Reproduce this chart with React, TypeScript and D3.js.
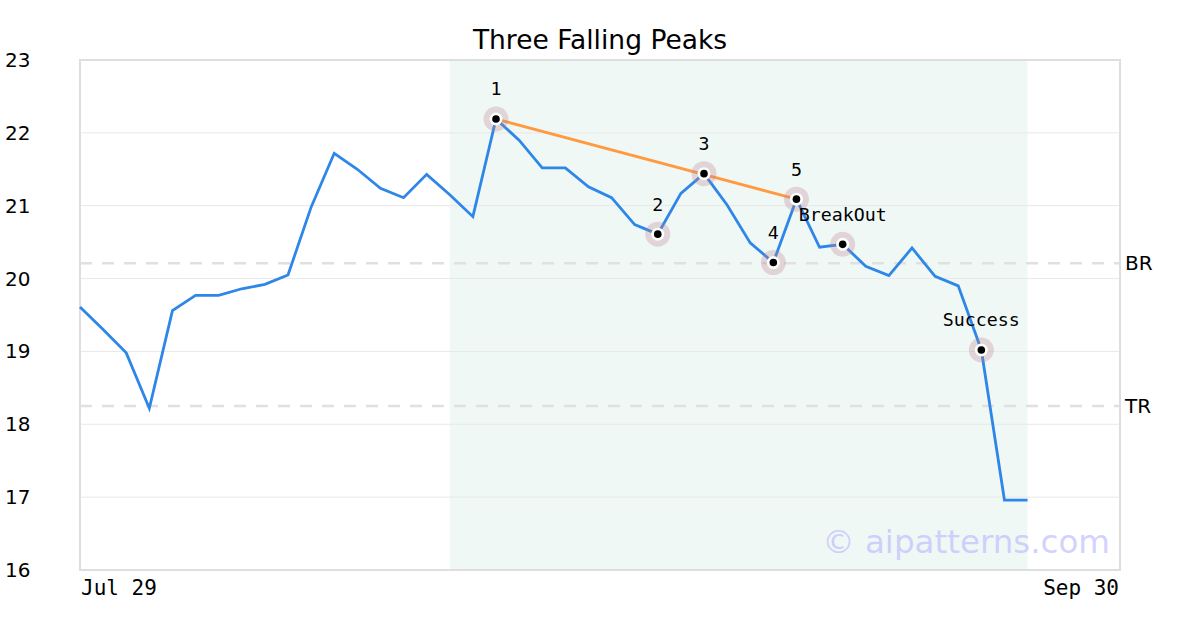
import React from "react";
import * as d3 from "d3";

const prices: number[] = [
  19.61, 19.3, 18.98, 18.22, 19.56, 19.77, 19.77, 19.86, 19.92, 20.05,
  20.98, 21.72, 21.5, 21.24, 21.11, 21.43, 21.15, 20.85, 22.19, 21.9,
  21.52, 21.52, 21.26, 21.11, 20.74, 20.61, 21.17, 21.44, 21.01, 20.49,
  20.22, 21.09, 20.43, 20.47, 20.17, 20.04, 20.42, 20.03, 19.9, 19.02,
  16.96, 16.96,
];
const totalSlots = 45;
const xTickLabels = ["Jul 29", "Sep 30"];
const yTicks = [16, 17, 18, 19, 20, 21, 22, 23];
const peakIdx = [18, 25, 27, 30, 31];
const peakLabels = ["1", "2", "3", "4", "5"];
const eventIdx = [33, 39];
const eventLabels = ["BreakOut", "Success"];
const trendIdx = [18, 31];
const levelValues = [20.21, 18.25];
const levelLabels = ["BR", "TR"];
const shadeRange = [16, 41];

export default function App() {
  const W = 1200, H = 630;
  const left = 80, right = 1120, top = 60, bottom = 570;
  const x = d3.scaleLinear().domain([0, totalSlots]).range([left, right]);
  const y = d3.scaleLinear().domain([16, 23]).range([bottom, top]);
  const line = d3.line<number>().x((_, i) => x(i)).y((d) => y(d));
  const markers = [
    ...peakIdx.map((i, k) => ({ i, label: peakLabels[k] })),
    ...eventIdx.map((i, k) => ({ i, label: eventLabels[k] })),
  ];
  return (
    <svg width={W} height={H} style={{ position: "absolute", left: 0, top: 0 }}>
      <rect width={W} height={H} fill="#fff" />
      <rect x={x(shadeRange[0])} y={top} width={x(shadeRange[1]) - x(shadeRange[0])} height={bottom - top} fill="#f0f8f5" />
      {yTicks.map((t) => (
        <g key={t}>
          <line x1={left} x2={right} y1={y(t)} y2={y(t)} stroke="#e8e8e8" strokeWidth={1} />
          <text x={5} y={y(t)} dy="0.35em" fontFamily="DejaVu Sans" fontSize={20} fill="#000">{t}</text>
        </g>
      ))}
      {levelValues.map((v, k) => (
        <g key={k}>
          <line x1={left} x2={right} y1={y(v)} y2={y(v)} stroke="#e0e0e0" strokeWidth={2.5} strokeDasharray="12,10" />
          <text x={1125} y={y(v)} dy="0.35em" fontFamily="DejaVu Sans" fontSize={20} fill="#000">{levelLabels[k]}</text>
        </g>
      ))}
      <rect x={left} y={top} width={right - left} height={bottom - top} fill="none" stroke="#dedede" strokeWidth={2} />
      <path d={line(prices) || ""} fill="none" stroke="#2e86e8" strokeWidth={2.8} strokeLinejoin="miter" />
      <line x1={x(trendIdx[0])} y1={y(prices[trendIdx[0]])} x2={x(trendIdx[1])} y2={y(prices[trendIdx[1]])} stroke="#ff9a40" strokeWidth={2.8} />
      {markers.map((m) => (
        <g key={m.label}>
          <circle cx={x(m.i)} cy={y(prices[m.i])} r={12.5} fill="rgba(190,130,145,0.3)" />
          <circle cx={x(m.i)} cy={y(prices[m.i])} r={6.5} fill="#fff" />
          <circle cx={x(m.i)} cy={y(prices[m.i])} r={3.8} fill="#000" />
          <text x={x(m.i)} y={y(prices[m.i]) - 30} dy="0.35em" textAnchor="middle" fontFamily="DejaVu Sans Mono" fontSize={18.3} fill="#000">{m.label}</text>
        </g>
      ))}
      <text x={600} y={40} textAnchor="middle" dy="0.35em" fontFamily="DejaVu Sans" fontSize={26.5} fill="#000">Three Falling Peaks</text>
      <text x={81} y={588} dy="0.35em" fontFamily="DejaVu Sans Mono" fontSize={21} fill="#000">{xTickLabels[0]}</text>
      <text x={1119} y={588} dy="0.35em" textAnchor="end" fontFamily="DejaVu Sans Mono" fontSize={21} fill="#000">{xTickLabels[1]}</text>
      <text x={1110} y={542} dy="0.35em" textAnchor="end" fontFamily="DejaVu Sans" fontSize={32.5} fill="rgba(190,190,255,0.7)">© aipatterns.com</text>
    </svg>
  );
}
